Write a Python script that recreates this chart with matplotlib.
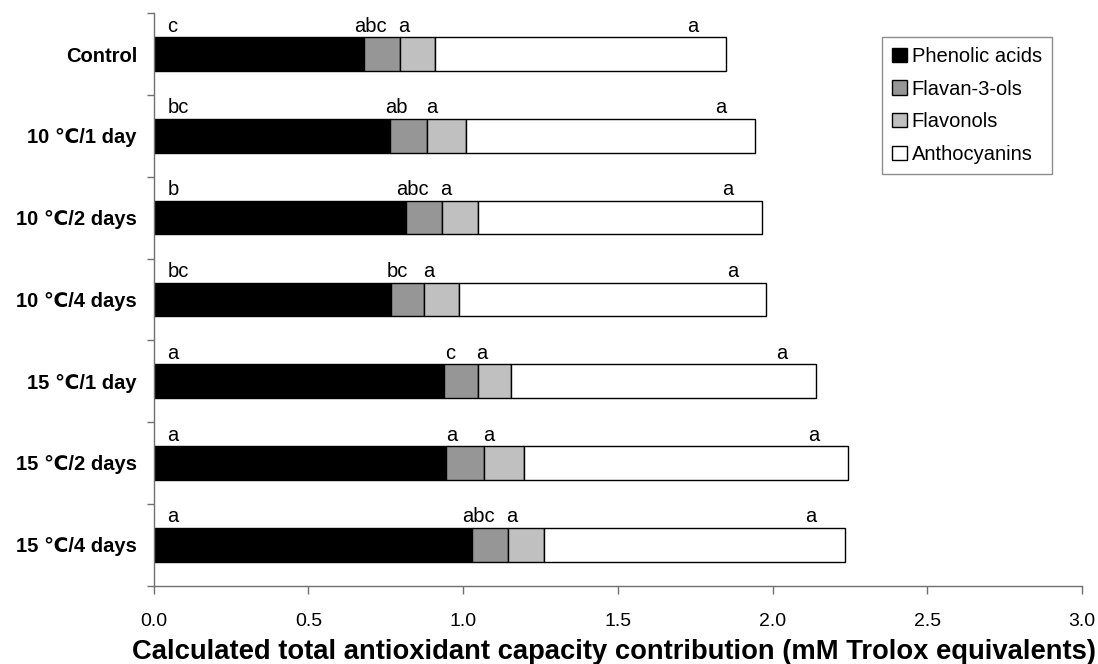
import matplotlib
matplotlib.use("Agg")
import matplotlib.pyplot as plt
import numpy as np

TREATMENTS = ["Control", "10 \u2103/1 day", "10 \u2103/2 days", "10 \u2103/4 days",
              "15 \u2103/1 day", "15 \u2103/2 days", "15 \u2103/4 days"]
SERIES = ["Phenolic acids", "Flavan-3-ols", "Flavonols", "Anthocyanins"]
phenolic = [0.681, 0.764, 0.816, 0.767, 0.937, 0.944, 1.029]
flavan = [0.114, 0.121, 0.115, 0.108, 0.110, 0.125, 0.116]
flavonols = [0.114, 0.124, 0.117, 0.112, 0.109, 0.127, 0.118]
anthocyanins = [0.942, 0.933, 0.918, 0.993, 0.984, 1.048, 0.972]

letters_phen = ["c", "bc", "b", "bc", "a", "a", "a"]
letters_flavan = ["abc", "ab", "abc", "bc", "c", "a", "abc"]
letters_flavonol = ["a", "a", "a", "a", "a", "a", "a"]
letters_antho = ["a", "a", "a", "a", "a", "a", "a"]

COLORS = ["#000000", "#969696", "#c0c0c0", "#ffffff"]

plt.rcParams.update({"font.family": ["Liberation Sans", "DejaVu Sans"], "font.size": 14})
fig = plt.figure(figsize=(10.98, 6.64), dpi=100)
ax = fig.add_axes([0.1399, 0.1180, 0.8455, 0.8620])

y = np.arange(len(TREATMENTS))
h = 0.41
left = np.zeros(len(TREATMENTS))
for name, vals, col in zip(SERIES, [phenolic, flavan, flavonols, anthocyanins], COLORS):
    ax.barh(y, vals, height=h, left=left, color=col, edgecolor="black", linewidth=1.0, label=name)
    left += np.asarray(vals)

# significance letters above each segment
ends = np.cumsum(np.array([phenolic, flavan, flavonols, anthocyanins]), axis=0)
ty = y - h / 2 - 0.07
for i in range(len(TREATMENTS)):
    ax.text(0.045, ty[i], letters_phen[i], ha="left", va="baseline", fontsize=14.5)
    ax.text(ends[0, i] + 0.02, ty[i], letters_flavan[i], ha="center", va="baseline", fontsize=14.5)
    ax.text(ends[1, i] + 0.013, ty[i], letters_flavonol[i], ha="center", va="baseline", fontsize=14.5)
    ax.text(ends[3, i] - 0.11, ty[i], letters_antho[i], ha="center", va="baseline", fontsize=14.5)

ax.set_xlim(0, 3.0)
ax.set_ylim(len(TREATMENTS) - 0.5, -0.5)
ax.set_xticks(np.arange(0, 3.01, 0.5))
ax.set_xticklabels([f"{v:.1f}" for v in np.arange(0, 3.01, 0.5)])
ax.set_yticks(np.arange(-0.5, len(TREATMENTS), 1.0))
ax.set_yticklabels([])
ax.set_yticks(y, minor=True)
ax.set_yticklabels(TREATMENTS, minor=True, fontweight="bold", fontsize=14.5)
ax.tick_params(axis="y", which="minor", length=0, pad=12)
ax.tick_params(axis="y", which="major", length=5, color="#707070", width=1)
ax.tick_params(axis="x", length=6, color="#707070", width=1, pad=14, labelsize=14)

for s in ["top", "right"]:
    ax.spines[s].set_visible(False)
for s in ["left", "bottom"]:
    ax.spines[s].set_color("#707070")
    ax.spines[s].set_linewidth(1)

ax.set_xlabel("Calculated total antioxidant capacity contribution (mM Trolox equivalents)",
              fontweight="bold", fontsize=19.7, labelpad=6)
ax.xaxis.label.set_x(0.4957)

leg = ax.legend(loc="upper left", bbox_to_anchor=(0.785, 0.959), frameon=True, fancybox=False,
                fontsize=14.5, handlelength=0.7, handleheight=0.7, handletextpad=0.25,
                labelspacing=0.68, borderpad=0.5, borderaxespad=0)
leg.get_frame().set_edgecolor("#707070")
leg.get_frame().set_linewidth(1)

fig.savefig("out.png", dpi=100)
